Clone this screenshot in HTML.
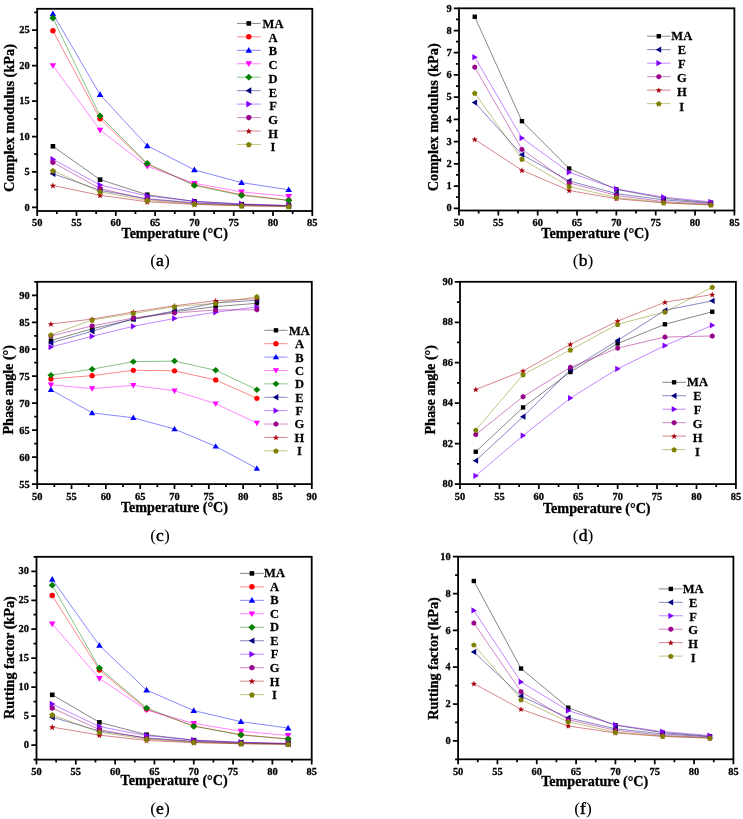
<!DOCTYPE html>
<html><head><meta charset="utf-8"><style>
html,body{margin:0;padding:0;background:#fff;width:743px;height:819px;overflow:hidden}
svg{display:block;filter:blur(0.3px)}
text{font-family:"Liberation Serif",serif;}
.tl{font-weight:bold;stroke:#000;stroke-width:0.3px;}
.ti{font-weight:bold;stroke:#000;stroke-width:0.3px;}
.lg{font-weight:bold;font-size:13.2px;stroke:#000;stroke-width:0.25px;}
.cap{font-size:17.5px;}
</style></head><body>
<svg width="743" height="819" viewBox="0 0 743 819">
<rect width="743" height="819" fill="#fff"/>
<polyline points="52.92,146.30 100.08,179.64 147.24,194.75 194.40,201.42 241.56,204.26 288.72,205.68" fill="none" stroke="#000000" stroke-width="0.8" stroke-opacity="0.6"/>
<polyline points="52.92,30.79 100.08,118.77 147.24,164.17 194.40,184.75 241.56,194.68 288.72,200.36" fill="none" stroke="#ff0000" stroke-width="0.8" stroke-opacity="0.6"/>
<polyline points="52.92,13.77 100.08,94.65 147.24,145.73 194.40,169.85 241.56,182.62 288.72,189.72" fill="none" stroke="#0000ff" stroke-width="0.8" stroke-opacity="0.6"/>
<polyline points="52.92,65.56 100.08,130.12 147.24,166.30 194.40,183.33 241.56,191.84 288.72,196.46" fill="none" stroke="#ff00ff" stroke-width="0.8" stroke-opacity="0.6"/>
<polyline points="52.92,18.02 100.08,115.93 147.24,163.47 194.40,185.46 241.56,195.39 288.72,200.36" fill="none" stroke="#008000" stroke-width="0.8" stroke-opacity="0.6"/>
<polyline points="52.92,173.68 100.08,190.35 147.24,198.73 194.40,202.77 241.56,204.76 288.72,205.89" fill="none" stroke="#000080" stroke-width="0.8" stroke-opacity="0.6"/>
<polyline points="52.92,159.21 100.08,185.03 147.24,195.96 194.40,201.28 241.56,203.91 288.72,205.40" fill="none" stroke="#8000ff" stroke-width="0.8" stroke-opacity="0.6"/>
<polyline points="52.92,162.40 100.08,188.65 147.24,199.36 194.40,203.34 241.56,205.32 288.72,206.18" fill="none" stroke="#98008a" stroke-width="0.8" stroke-opacity="0.6"/>
<polyline points="52.92,185.46 100.08,195.32 147.24,201.78 194.40,204.40 241.56,205.75 288.72,206.39" fill="none" stroke="#a8000c" stroke-width="0.8" stroke-opacity="0.6"/>
<polyline points="52.92,170.70 100.08,191.77 147.24,200.50 194.40,204.05 241.56,205.61 288.72,206.39" fill="none" stroke="#808000" stroke-width="0.8" stroke-opacity="0.6"/>
<rect x="50.62" y="144.00" width="4.60" height="4.60" fill="#000000"/>
<rect x="97.78" y="177.34" width="4.60" height="4.60" fill="#000000"/>
<rect x="144.94" y="192.45" width="4.60" height="4.60" fill="#000000"/>
<rect x="192.10" y="199.12" width="4.60" height="4.60" fill="#000000"/>
<rect x="239.26" y="201.96" width="4.60" height="4.60" fill="#000000"/>
<rect x="286.42" y="203.38" width="4.60" height="4.60" fill="#000000"/>
<circle cx="52.92" cy="30.79" r="2.75" fill="#ff0000"/>
<circle cx="100.08" cy="118.77" r="2.75" fill="#ff0000"/>
<circle cx="147.24" cy="164.17" r="2.75" fill="#ff0000"/>
<circle cx="194.40" cy="184.75" r="2.75" fill="#ff0000"/>
<circle cx="241.56" cy="194.68" r="2.75" fill="#ff0000"/>
<circle cx="288.72" cy="200.36" r="2.75" fill="#ff0000"/>
<polygon points="52.92,10.47 56.21,16.17 49.63,16.17" fill="#0000ff"/>
<polygon points="100.08,91.35 103.37,97.05 96.79,97.05" fill="#0000ff"/>
<polygon points="147.24,142.43 150.53,148.13 143.95,148.13" fill="#0000ff"/>
<polygon points="194.40,166.55 197.69,172.25 191.11,172.25" fill="#0000ff"/>
<polygon points="241.56,179.32 244.85,185.02 238.27,185.02" fill="#0000ff"/>
<polygon points="288.72,186.42 292.01,192.12 285.43,192.12" fill="#0000ff"/>
<polygon points="52.92,68.86 49.63,63.16 56.21,63.16" fill="#ff00ff"/>
<polygon points="100.08,133.42 96.79,127.72 103.37,127.72" fill="#ff00ff"/>
<polygon points="147.24,169.60 143.95,163.90 150.53,163.90" fill="#ff00ff"/>
<polygon points="194.40,186.63 191.11,180.93 197.69,180.93" fill="#ff00ff"/>
<polygon points="241.56,195.14 238.27,189.44 244.85,189.44" fill="#ff00ff"/>
<polygon points="288.72,199.76 285.43,194.06 292.01,194.06" fill="#ff00ff"/>
<polygon points="52.92,14.62 56.52,18.02 52.92,21.42 49.32,18.02" fill="#008000"/>
<polygon points="100.08,112.53 103.68,115.93 100.08,119.33 96.48,115.93" fill="#008000"/>
<polygon points="147.24,160.07 150.84,163.47 147.24,166.87 143.64,163.47" fill="#008000"/>
<polygon points="194.40,182.06 198.00,185.46 194.40,188.86 190.80,185.46" fill="#008000"/>
<polygon points="241.56,191.99 245.16,195.39 241.56,198.79 237.96,195.39" fill="#008000"/>
<polygon points="288.72,196.96 292.32,200.36 288.72,203.76 285.12,200.36" fill="#008000"/>
<polygon points="49.72,173.68 55.42,170.39 55.42,176.97" fill="#000080"/>
<polygon points="96.88,190.35 102.58,187.06 102.58,193.65" fill="#000080"/>
<polygon points="144.04,198.73 149.74,195.44 149.74,202.02" fill="#000080"/>
<polygon points="191.20,202.77 196.90,199.48 196.90,206.06" fill="#000080"/>
<polygon points="238.36,204.76 244.06,201.47 244.06,208.05" fill="#000080"/>
<polygon points="285.52,205.89 291.22,202.60 291.22,209.18" fill="#000080"/>
<polygon points="56.12,159.21 50.42,162.50 50.42,155.92" fill="#8000ff"/>
<polygon points="103.28,185.03 97.58,188.32 97.58,181.74" fill="#8000ff"/>
<polygon points="150.44,195.96 144.74,199.25 144.74,192.67" fill="#8000ff"/>
<polygon points="197.60,201.28 191.90,204.57 191.90,197.99" fill="#8000ff"/>
<polygon points="244.76,203.91 239.06,207.20 239.06,200.61" fill="#8000ff"/>
<polygon points="291.92,205.40 286.22,208.69 286.22,202.10" fill="#8000ff"/>
<polygon points="55.43,163.85 52.92,165.30 50.41,163.85 50.41,160.95 52.92,159.50 55.43,160.95" fill="#98008a"/>
<polygon points="102.59,190.10 100.08,191.55 97.57,190.10 97.57,187.20 100.08,185.75 102.59,187.20" fill="#98008a"/>
<polygon points="149.75,200.81 147.24,202.26 144.73,200.81 144.73,197.91 147.24,196.46 149.75,197.91" fill="#98008a"/>
<polygon points="196.91,204.79 194.40,206.24 191.89,204.79 191.89,201.89 194.40,200.44 196.91,201.89" fill="#98008a"/>
<polygon points="244.07,206.77 241.56,208.22 239.05,206.77 239.05,203.87 241.56,202.42 244.07,203.87" fill="#98008a"/>
<polygon points="291.23,207.63 288.72,209.08 286.21,207.63 286.21,204.73 288.72,203.28 291.23,204.73" fill="#98008a"/>
<polygon points="52.92,182.36 53.74,184.63 56.15,184.71 54.25,186.19 54.92,188.51 52.92,187.16 50.92,188.51 51.59,186.19 49.69,184.71 52.10,184.63" fill="#a8000c"/>
<polygon points="100.08,192.22 100.90,194.49 103.31,194.57 101.41,196.05 102.08,198.37 100.08,197.02 98.08,198.37 98.75,196.05 96.85,194.57 99.26,194.49" fill="#a8000c"/>
<polygon points="147.24,198.68 148.06,200.94 150.47,201.03 148.57,202.51 149.24,204.83 147.24,203.48 145.24,204.83 145.91,202.51 144.01,201.03 146.42,200.94" fill="#a8000c"/>
<polygon points="194.40,201.30 195.22,203.57 197.63,203.65 195.73,205.13 196.40,207.45 194.40,206.10 192.40,207.45 193.07,205.13 191.17,203.65 193.58,203.57" fill="#a8000c"/>
<polygon points="241.56,202.65 242.38,204.92 244.79,205.00 242.89,206.48 243.56,208.80 241.56,207.45 239.56,208.80 240.23,206.48 238.33,205.00 240.74,204.92" fill="#a8000c"/>
<polygon points="288.72,203.29 289.54,205.56 291.95,205.64 290.05,207.12 290.72,209.44 288.72,208.09 286.72,209.44 287.39,207.12 285.49,205.64 287.90,205.56" fill="#a8000c"/>
<polygon points="52.92,167.95 55.82,170.06 54.71,173.47 51.13,173.47 50.02,170.06" fill="#808000"/>
<polygon points="100.08,189.02 102.98,191.13 101.87,194.54 98.29,194.54 97.18,191.13" fill="#808000"/>
<polygon points="147.24,197.75 150.14,199.86 149.03,203.27 145.45,203.27 144.34,199.86" fill="#808000"/>
<polygon points="194.40,201.30 197.30,203.40 196.19,206.81 192.61,206.81 191.50,203.40" fill="#808000"/>
<polygon points="241.56,202.86 244.46,204.97 243.35,208.38 239.77,208.38 238.66,204.97" fill="#808000"/>
<polygon points="288.72,203.64 291.62,205.75 290.51,209.16 286.93,209.16 285.82,205.75" fill="#808000"/>
<line x1="236.9" y1="23.40" x2="260.7" y2="23.40" stroke="#000000" stroke-width="0.8" stroke-opacity="0.6"/>
<rect x="246.50" y="21.10" width="4.60" height="4.60" fill="#000000"/>
<text transform="translate(273,28.10) scale(0.95,1)" text-anchor="middle" class="lg">MA</text>
<line x1="236.9" y1="36.85" x2="260.7" y2="36.85" stroke="#ff0000" stroke-width="0.8" stroke-opacity="0.6"/>
<circle cx="248.80" cy="36.85" r="2.75" fill="#ff0000"/>
<text transform="translate(273,41.79) scale(0.95,1)" text-anchor="middle" class="lg">A</text>
<line x1="236.9" y1="50.30" x2="260.7" y2="50.30" stroke="#0000ff" stroke-width="0.8" stroke-opacity="0.6"/>
<polygon points="248.80,47.00 252.09,52.70 245.51,52.70" fill="#0000ff"/>
<text transform="translate(273,55.48) scale(0.95,1)" text-anchor="middle" class="lg">B</text>
<line x1="236.9" y1="63.75" x2="260.7" y2="63.75" stroke="#ff00ff" stroke-width="0.8" stroke-opacity="0.6"/>
<polygon points="248.80,67.05 245.51,61.35 252.09,61.35" fill="#ff00ff"/>
<text transform="translate(273,69.17) scale(0.95,1)" text-anchor="middle" class="lg">C</text>
<line x1="236.9" y1="77.20" x2="260.7" y2="77.20" stroke="#008000" stroke-width="0.8" stroke-opacity="0.6"/>
<polygon points="248.80,73.80 252.40,77.20 248.80,80.60 245.20,77.20" fill="#008000"/>
<text transform="translate(273,82.86) scale(0.95,1)" text-anchor="middle" class="lg">D</text>
<line x1="236.9" y1="90.65" x2="260.7" y2="90.65" stroke="#000080" stroke-width="0.8" stroke-opacity="0.6"/>
<polygon points="245.60,90.65 251.30,87.36 251.30,93.94" fill="#000080"/>
<text transform="translate(273,96.55) scale(0.95,1)" text-anchor="middle" class="lg">E</text>
<line x1="236.9" y1="104.10" x2="260.7" y2="104.10" stroke="#8000ff" stroke-width="0.8" stroke-opacity="0.6"/>
<polygon points="252.00,104.10 246.30,107.39 246.30,100.81" fill="#8000ff"/>
<text transform="translate(273,110.24) scale(0.95,1)" text-anchor="middle" class="lg">F</text>
<line x1="236.9" y1="117.55" x2="260.7" y2="117.55" stroke="#98008a" stroke-width="0.8" stroke-opacity="0.6"/>
<polygon points="251.31,119.00 248.80,120.45 246.29,119.00 246.29,116.10 248.80,114.65 251.31,116.10" fill="#98008a"/>
<text transform="translate(273,123.93) scale(0.95,1)" text-anchor="middle" class="lg">G</text>
<line x1="236.9" y1="131.00" x2="260.7" y2="131.00" stroke="#a8000c" stroke-width="0.8" stroke-opacity="0.6"/>
<polygon points="248.80,127.90 249.62,130.17 252.03,130.25 250.13,131.73 250.80,134.05 248.80,132.70 246.80,134.05 247.47,131.73 245.57,130.25 247.98,130.17" fill="#a8000c"/>
<text transform="translate(273,137.62) scale(0.95,1)" text-anchor="middle" class="lg">H</text>
<line x1="236.9" y1="144.45" x2="260.7" y2="144.45" stroke="#808000" stroke-width="0.8" stroke-opacity="0.6"/>
<polygon points="248.80,141.70 251.70,143.81 250.59,147.22 247.01,147.22 245.90,143.81" fill="#808000"/>
<text transform="translate(273,151.31) scale(0.95,1)" text-anchor="middle" class="lg">I</text>
<rect x="37.2" y="8.8" width="275.10" height="202.20" fill="none" stroke="#000" stroke-width="1.8"/>
<text transform="translate(37.20,226.40) scale(0.95,1)" text-anchor="middle" class="tl" font-size="11">50</text>
<text transform="translate(76.50,226.40) scale(0.95,1)" text-anchor="middle" class="tl" font-size="11">55</text>
<text transform="translate(115.80,226.40) scale(0.95,1)" text-anchor="middle" class="tl" font-size="11">60</text>
<text transform="translate(155.10,226.40) scale(0.95,1)" text-anchor="middle" class="tl" font-size="11">65</text>
<text transform="translate(194.40,226.40) scale(0.95,1)" text-anchor="middle" class="tl" font-size="11">70</text>
<text transform="translate(233.70,226.40) scale(0.95,1)" text-anchor="middle" class="tl" font-size="11">75</text>
<text transform="translate(273.00,226.40) scale(0.95,1)" text-anchor="middle" class="tl" font-size="11">80</text>
<text transform="translate(312.30,226.40) scale(0.95,1)" text-anchor="middle" class="tl" font-size="11">85</text>
<text transform="translate(29.70,210.65) scale(0.95,1)" text-anchor="end" class="tl" font-size="11">0</text>
<text transform="translate(29.70,175.18) scale(0.95,1)" text-anchor="end" class="tl" font-size="11">5</text>
<text transform="translate(29.70,139.71) scale(0.95,1)" text-anchor="end" class="tl" font-size="11">10</text>
<text transform="translate(29.70,104.23) scale(0.95,1)" text-anchor="end" class="tl" font-size="11">15</text>
<text transform="translate(29.70,68.76) scale(0.95,1)" text-anchor="end" class="tl" font-size="11">20</text>
<text transform="translate(29.70,33.28) scale(0.95,1)" text-anchor="end" class="tl" font-size="11">25</text>
<path d="M37.20,211.0v5.0 M76.50,211.0v5.0 M115.80,211.0v5.0 M155.10,211.0v5.0 M194.40,211.0v5.0 M233.70,211.0v5.0 M273.00,211.0v5.0 M312.30,211.0v5.0 M56.85,211.0v3.0 M96.15,211.0v3.0 M135.45,211.0v3.0 M174.75,211.0v3.0 M214.05,211.0v3.0 M253.35,211.0v3.0 M292.65,211.0v3.0 M37.2,207.45h-5.2 M37.2,171.98h-5.2 M37.2,136.51h-5.2 M37.2,101.03h-5.2 M37.2,65.56h-5.2 M37.2,30.08h-5.2 M37.2,189.72h-3.0 M37.2,154.24h-3.0 M37.2,118.77h-3.0 M37.2,83.29h-3.0 M37.2,47.82h-3.0 M37.2,12.35h-3.0" stroke="#000" stroke-width="1.75" fill="none"/>
<text x="174.75" y="238.3" text-anchor="middle" class="ti" font-size="14.0">Temperature (°C)</text>
<text transform="translate(13.8,118.0) rotate(-90)" x="0" y="0" text-anchor="middle" class="ti" font-size="14.33">Complex modulus (kPa)</text>
<text x="160" y="265.7" text-anchor="middle" class="cap"><tspan>(</tspan><tspan font-size="17.5" stroke="#000" stroke-width="0.45">a</tspan><tspan>)</tspan></text>
<polyline points="474.74,16.74 521.95,121.18 569.16,168.50 616.37,189.39 663.58,198.28 710.79,202.72" fill="none" stroke="#000000" stroke-width="0.8" stroke-opacity="0.6"/>
<polyline points="474.74,102.51 521.95,154.73 569.16,180.95 616.37,193.61 663.58,199.83 710.79,203.39" fill="none" stroke="#000080" stroke-width="0.8" stroke-opacity="0.6"/>
<polyline points="474.74,57.18 521.95,138.06 569.16,172.28 616.37,188.95 663.58,197.17 710.79,201.83" fill="none" stroke="#8000ff" stroke-width="0.8" stroke-opacity="0.6"/>
<polyline points="474.74,67.18 521.95,149.40 569.16,182.95 616.37,195.39 663.58,201.61 710.79,204.28" fill="none" stroke="#98008a" stroke-width="0.8" stroke-opacity="0.6"/>
<polyline points="474.74,139.40 521.95,170.28 569.16,190.50 616.37,198.72 663.58,202.95 710.79,204.95" fill="none" stroke="#a8000c" stroke-width="0.8" stroke-opacity="0.6"/>
<polyline points="474.74,93.18 521.95,159.17 569.16,186.50 616.37,197.61 663.58,202.50 710.79,204.95" fill="none" stroke="#808000" stroke-width="0.8" stroke-opacity="0.6"/>
<rect x="472.55" y="14.56" width="4.37" height="4.37" fill="#000000"/>
<rect x="519.76" y="118.99" width="4.37" height="4.37" fill="#000000"/>
<rect x="566.98" y="166.32" width="4.37" height="4.37" fill="#000000"/>
<rect x="614.19" y="187.21" width="4.37" height="4.37" fill="#000000"/>
<rect x="661.40" y="196.09" width="4.37" height="4.37" fill="#000000"/>
<rect x="708.61" y="200.54" width="4.37" height="4.37" fill="#000000"/>
<polygon points="471.70,102.51 477.11,99.39 477.11,105.64" fill="#000080"/>
<polygon points="518.91,154.73 524.32,151.60 524.32,157.85" fill="#000080"/>
<polygon points="566.12,180.95 571.53,177.82 571.53,184.07" fill="#000080"/>
<polygon points="613.33,193.61 618.75,190.49 618.75,196.74" fill="#000080"/>
<polygon points="660.54,199.83 665.96,196.71 665.96,202.96" fill="#000080"/>
<polygon points="707.75,203.39 713.17,200.26 713.17,206.52" fill="#000080"/>
<polygon points="477.78,57.18 472.36,60.31 472.36,54.06" fill="#8000ff"/>
<polygon points="524.99,138.06 519.57,141.19 519.57,134.94" fill="#8000ff"/>
<polygon points="572.20,172.28 566.78,175.41 566.78,169.16" fill="#8000ff"/>
<polygon points="619.41,188.95 614.00,192.07 614.00,185.82" fill="#8000ff"/>
<polygon points="666.62,197.17 661.21,200.29 661.21,194.04" fill="#8000ff"/>
<polygon points="713.83,201.83 708.42,204.96 708.42,198.71" fill="#8000ff"/>
<polygon points="477.12,68.56 474.74,69.94 472.35,68.56 472.35,65.80 474.74,64.43 477.12,65.80" fill="#98008a"/>
<polygon points="524.33,150.77 521.95,152.15 519.56,150.77 519.56,148.02 521.95,146.64 524.33,148.02" fill="#98008a"/>
<polygon points="571.55,184.32 569.16,185.70 566.77,184.32 566.77,181.57 569.16,180.19 571.55,181.57" fill="#98008a"/>
<polygon points="618.76,196.77 616.37,198.15 613.99,196.77 613.99,194.01 616.37,192.64 618.76,194.01" fill="#98008a"/>
<polygon points="665.97,202.99 663.58,204.37 661.20,202.99 661.20,200.23 663.58,198.86 665.97,200.23" fill="#98008a"/>
<polygon points="713.18,205.66 710.79,207.03 708.41,205.66 708.41,202.90 710.79,201.52 713.18,202.90" fill="#98008a"/>
<polygon points="474.74,136.45 475.52,138.61 477.81,138.68 476.00,140.09 476.64,142.29 474.74,141.01 472.84,142.29 473.47,140.09 471.67,138.68 473.96,138.61" fill="#a8000c"/>
<polygon points="521.95,167.34 522.73,169.49 525.02,169.57 523.21,170.98 523.85,173.18 521.95,171.90 520.05,173.18 520.68,170.98 518.88,169.57 521.17,169.49" fill="#a8000c"/>
<polygon points="569.16,187.56 569.94,189.71 572.23,189.79 570.42,191.20 571.06,193.40 569.16,192.12 567.26,193.40 567.90,191.20 566.09,189.79 568.38,189.71" fill="#a8000c"/>
<polygon points="616.37,195.78 617.15,197.93 619.44,198.01 617.64,199.42 618.27,201.62 616.37,200.34 614.47,201.62 615.11,199.42 613.30,198.01 615.59,197.93" fill="#a8000c"/>
<polygon points="663.58,200.00 664.36,202.15 666.65,202.23 664.85,203.64 665.48,205.84 663.58,204.56 661.68,205.84 662.32,203.64 660.51,202.23 662.80,202.15" fill="#a8000c"/>
<polygon points="710.79,202.00 711.58,204.15 713.87,204.23 712.06,205.64 712.69,207.84 710.79,206.56 708.90,207.84 709.53,205.64 707.72,204.23 710.01,204.15" fill="#a8000c"/>
<polygon points="474.74,90.57 477.49,92.57 476.44,95.81 473.03,95.81 471.98,92.57" fill="#808000"/>
<polygon points="521.95,156.56 524.70,158.56 523.65,161.80 520.25,161.80 519.19,158.56" fill="#808000"/>
<polygon points="569.16,183.89 571.92,185.89 570.86,189.13 567.46,189.13 566.40,185.89" fill="#808000"/>
<polygon points="616.37,195.00 619.13,197.00 618.07,200.24 614.67,200.24 613.62,197.00" fill="#808000"/>
<polygon points="663.58,199.89 666.34,201.89 665.29,205.13 661.88,205.13 660.83,201.89" fill="#808000"/>
<polygon points="710.79,202.33 713.55,204.33 712.50,207.57 709.09,207.57 708.04,204.33" fill="#808000"/>
<line x1="647.1" y1="36.20" x2="670.5" y2="36.20" stroke="#000000" stroke-width="0.8" stroke-opacity="0.6"/>
<rect x="656.62" y="34.02" width="4.37" height="4.37" fill="#000000"/>
<text transform="translate(681.8,40.35) scale(0.95,1)" text-anchor="middle" class="lg">MA</text>
<line x1="647.1" y1="49.68" x2="670.5" y2="49.68" stroke="#000080" stroke-width="0.8" stroke-opacity="0.6"/>
<polygon points="655.76,49.68 661.17,46.55 661.17,52.81" fill="#000080"/>
<text transform="translate(681.8,54.38) scale(0.95,1)" text-anchor="middle" class="lg">E</text>
<line x1="647.1" y1="63.16" x2="670.5" y2="63.16" stroke="#8000ff" stroke-width="0.8" stroke-opacity="0.6"/>
<polygon points="661.84,63.16 656.42,66.29 656.42,60.03" fill="#8000ff"/>
<text transform="translate(681.8,68.41) scale(0.95,1)" text-anchor="middle" class="lg">F</text>
<line x1="647.1" y1="76.64" x2="670.5" y2="76.64" stroke="#98008a" stroke-width="0.8" stroke-opacity="0.6"/>
<polygon points="661.19,78.02 658.80,79.39 656.41,78.02 656.41,75.26 658.80,73.89 661.19,75.26" fill="#98008a"/>
<text transform="translate(681.8,82.44) scale(0.95,1)" text-anchor="middle" class="lg">G</text>
<line x1="647.1" y1="90.12" x2="670.5" y2="90.12" stroke="#a8000c" stroke-width="0.8" stroke-opacity="0.6"/>
<polygon points="658.80,87.17 659.58,89.33 661.87,89.41 660.06,90.82 660.70,93.02 658.80,91.73 656.90,93.02 657.54,90.82 655.73,89.41 658.02,89.33" fill="#a8000c"/>
<text transform="translate(681.8,96.47) scale(0.95,1)" text-anchor="middle" class="lg">H</text>
<line x1="647.1" y1="103.60" x2="670.5" y2="103.60" stroke="#808000" stroke-width="0.8" stroke-opacity="0.6"/>
<polygon points="658.80,100.99 661.56,102.99 660.50,106.23 657.10,106.23 656.04,102.99" fill="#808000"/>
<text transform="translate(681.8,110.50) scale(0.95,1)" text-anchor="middle" class="lg">I</text>
<rect x="459.0" y="8.3" width="275.40" height="202.20" fill="none" stroke="#000" stroke-width="1.8"/>
<text transform="translate(459.00,225.90) scale(0.95,1)" text-anchor="middle" class="tl" font-size="11">50</text>
<text transform="translate(498.34,225.90) scale(0.95,1)" text-anchor="middle" class="tl" font-size="11">55</text>
<text transform="translate(537.69,225.90) scale(0.95,1)" text-anchor="middle" class="tl" font-size="11">60</text>
<text transform="translate(577.03,225.90) scale(0.95,1)" text-anchor="middle" class="tl" font-size="11">65</text>
<text transform="translate(616.37,225.90) scale(0.95,1)" text-anchor="middle" class="tl" font-size="11">70</text>
<text transform="translate(655.71,225.90) scale(0.95,1)" text-anchor="middle" class="tl" font-size="11">75</text>
<text transform="translate(695.06,225.90) scale(0.95,1)" text-anchor="middle" class="tl" font-size="11">80</text>
<text transform="translate(734.40,225.90) scale(0.95,1)" text-anchor="middle" class="tl" font-size="11">85</text>
<text transform="translate(451.80,211.48) scale(0.95,1)" text-anchor="end" class="tl" font-size="11">0</text>
<text transform="translate(451.80,189.26) scale(0.95,1)" text-anchor="end" class="tl" font-size="11">1</text>
<text transform="translate(451.80,167.04) scale(0.95,1)" text-anchor="end" class="tl" font-size="11">2</text>
<text transform="translate(451.80,144.82) scale(0.95,1)" text-anchor="end" class="tl" font-size="11">3</text>
<text transform="translate(451.80,122.60) scale(0.95,1)" text-anchor="end" class="tl" font-size="11">4</text>
<text transform="translate(451.80,100.38) scale(0.95,1)" text-anchor="end" class="tl" font-size="11">5</text>
<text transform="translate(451.80,78.16) scale(0.95,1)" text-anchor="end" class="tl" font-size="11">6</text>
<text transform="translate(451.80,55.94) scale(0.95,1)" text-anchor="end" class="tl" font-size="11">7</text>
<text transform="translate(451.80,33.72) scale(0.95,1)" text-anchor="end" class="tl" font-size="11">8</text>
<text transform="translate(451.80,11.50) scale(0.95,1)" text-anchor="end" class="tl" font-size="11">9</text>
<path d="M459.00,210.5v5.0 M498.34,210.5v5.0 M537.69,210.5v5.0 M577.03,210.5v5.0 M616.37,210.5v5.0 M655.71,210.5v5.0 M695.06,210.5v5.0 M734.40,210.5v5.0 M478.67,210.5v3.0 M518.01,210.5v3.0 M557.36,210.5v3.0 M596.70,210.5v3.0 M636.04,210.5v3.0 M675.39,210.5v3.0 M714.73,210.5v3.0 M459.0,208.28h-5.2 M459.0,186.06h-5.2 M459.0,163.84h-5.2 M459.0,141.62h-5.2 M459.0,119.40h-5.2 M459.0,97.18h-5.2 M459.0,74.96h-5.2 M459.0,52.74h-5.2 M459.0,30.52h-5.2 M459.0,8.30h-5.2 M459.0,197.17h-3.0 M459.0,174.95h-3.0 M459.0,152.73h-3.0 M459.0,130.51h-3.0 M459.0,108.29h-3.0 M459.0,86.07h-3.0 M459.0,63.85h-3.0 M459.0,41.63h-3.0 M459.0,19.41h-3.0" stroke="#000" stroke-width="1.75" fill="none"/>
<text x="595.20" y="238.3" text-anchor="middle" class="ti" font-size="14.2">Temperature (°C)</text>
<text transform="translate(437.5,117.3) rotate(-90)" x="0" y="0" text-anchor="middle" class="ti" font-size="14.33">Complex modulus (kPa)</text>
<text x="583" y="265.7" text-anchor="middle" class="cap"><tspan>(</tspan><tspan font-size="17.5" stroke="#000" stroke-width="0.45">b</tspan><tspan>)</tspan></text>
<polyline points="50.93,340.60 92.12,328.79 133.31,319.35 174.50,311.74 215.69,306.62 256.88,303.27" fill="none" stroke="#000000" stroke-width="0.8" stroke-opacity="0.6"/>
<polyline points="50.93,378.90 92.12,375.67 133.31,370.27 174.50,370.81 215.69,379.98 256.88,398.32" fill="none" stroke="#ff0000" stroke-width="0.8" stroke-opacity="0.6"/>
<polyline points="50.93,389.69 92.12,412.89 133.31,417.75 174.50,429.07 215.69,446.34 256.88,468.46" fill="none" stroke="#0000ff" stroke-width="0.8" stroke-opacity="0.6"/>
<polyline points="50.93,384.84 92.12,388.61 133.31,385.38 174.50,390.77 215.69,403.72 256.88,423.14" fill="none" stroke="#ff00ff" stroke-width="0.8" stroke-opacity="0.6"/>
<polyline points="50.93,375.13 92.12,369.19 133.31,361.64 174.50,361.10 215.69,370.27 256.88,389.69" fill="none" stroke="#008000" stroke-width="0.8" stroke-opacity="0.6"/>
<polyline points="50.93,342.98 92.12,331.27 133.31,318.75 174.50,310.93 215.69,302.89 256.88,300.36" fill="none" stroke="#000080" stroke-width="0.8" stroke-opacity="0.6"/>
<polyline points="50.93,347.02 92.12,336.29 133.31,326.31 174.50,318.48 215.69,312.28 256.88,306.89" fill="none" stroke="#8000ff" stroke-width="0.8" stroke-opacity="0.6"/>
<polyline points="50.93,336.02 92.12,325.93 133.31,318.11 174.50,312.98 215.69,310.01 256.88,309.74" fill="none" stroke="#98008a" stroke-width="0.8" stroke-opacity="0.6"/>
<polyline points="50.93,323.99 92.12,319.08 133.31,311.96 174.50,305.75 215.69,300.74 256.88,298.69" fill="none" stroke="#a8000c" stroke-width="0.8" stroke-opacity="0.6"/>
<polyline points="50.93,334.83 92.12,320.05 133.31,313.47 174.50,306.62 215.69,303.32 256.88,296.69" fill="none" stroke="#808000" stroke-width="0.8" stroke-opacity="0.6"/>
<rect x="48.75" y="338.42" width="4.37" height="4.37" fill="#000000"/>
<rect x="89.94" y="326.60" width="4.37" height="4.37" fill="#000000"/>
<rect x="131.12" y="317.16" width="4.37" height="4.37" fill="#000000"/>
<rect x="172.31" y="309.56" width="4.37" height="4.37" fill="#000000"/>
<rect x="213.50" y="304.43" width="4.37" height="4.37" fill="#000000"/>
<rect x="254.70" y="301.09" width="4.37" height="4.37" fill="#000000"/>
<circle cx="50.93" cy="378.90" r="2.61" fill="#ff0000"/>
<circle cx="92.12" cy="375.67" r="2.61" fill="#ff0000"/>
<circle cx="133.31" cy="370.27" r="2.61" fill="#ff0000"/>
<circle cx="174.50" cy="370.81" r="2.61" fill="#ff0000"/>
<circle cx="215.69" cy="379.98" r="2.61" fill="#ff0000"/>
<circle cx="256.88" cy="398.32" r="2.61" fill="#ff0000"/>
<polygon points="50.93,386.56 54.06,391.97 47.80,391.97" fill="#0000ff"/>
<polygon points="92.12,409.76 95.25,415.17 88.99,415.17" fill="#0000ff"/>
<polygon points="133.31,414.61 136.44,420.03 130.18,420.03" fill="#0000ff"/>
<polygon points="174.50,425.94 177.63,431.35 171.37,431.35" fill="#0000ff"/>
<polygon points="215.69,443.20 218.82,448.62 212.56,448.62" fill="#0000ff"/>
<polygon points="256.88,465.32 260.01,470.74 253.75,470.74" fill="#0000ff"/>
<polygon points="50.93,387.97 47.80,382.56 54.06,382.56" fill="#ff00ff"/>
<polygon points="92.12,391.75 88.99,386.33 95.25,386.33" fill="#ff00ff"/>
<polygon points="133.31,388.51 130.18,383.10 136.44,383.10" fill="#ff00ff"/>
<polygon points="174.50,393.91 171.37,388.49 177.63,388.49" fill="#ff00ff"/>
<polygon points="215.69,406.85 212.56,401.44 218.82,401.44" fill="#ff00ff"/>
<polygon points="256.88,426.28 253.75,420.86 260.01,420.86" fill="#ff00ff"/>
<polygon points="50.93,371.90 54.35,375.13 50.93,378.36 47.51,375.13" fill="#008000"/>
<polygon points="92.12,365.96 95.54,369.19 92.12,372.42 88.70,369.19" fill="#008000"/>
<polygon points="133.31,358.41 136.73,361.64 133.31,364.87 129.89,361.64" fill="#008000"/>
<polygon points="174.50,357.87 177.92,361.10 174.50,364.33 171.08,361.10" fill="#008000"/>
<polygon points="215.69,367.04 219.11,370.27 215.69,373.50 212.27,370.27" fill="#008000"/>
<polygon points="256.88,386.46 260.30,389.69 256.88,392.92 253.46,389.69" fill="#008000"/>
<polygon points="47.89,342.98 53.31,339.85 53.31,346.10" fill="#000080"/>
<polygon points="89.08,331.27 94.50,328.14 94.49,334.40" fill="#000080"/>
<polygon points="130.27,318.75 135.69,315.63 135.69,321.88" fill="#000080"/>
<polygon points="171.46,310.93 176.88,307.80 176.88,314.06" fill="#000080"/>
<polygon points="212.65,302.89 218.06,299.77 218.06,306.02" fill="#000080"/>
<polygon points="253.84,300.36 259.26,297.23 259.26,303.48" fill="#000080"/>
<polygon points="53.97,347.02 48.56,350.15 48.56,343.90" fill="#8000ff"/>
<polygon points="95.16,336.29 89.75,339.41 89.75,333.16" fill="#8000ff"/>
<polygon points="136.35,326.31 130.94,329.43 130.94,323.18" fill="#8000ff"/>
<polygon points="177.54,318.48 172.12,321.61 172.12,315.36" fill="#8000ff"/>
<polygon points="218.73,312.28 213.31,315.41 213.31,309.15" fill="#8000ff"/>
<polygon points="259.92,306.89 254.51,310.01 254.51,303.76" fill="#8000ff"/>
<polygon points="53.32,337.39 50.93,338.77 48.54,337.39 48.54,334.64 50.93,333.26 53.32,334.64" fill="#98008a"/>
<polygon points="94.51,327.31 92.12,328.68 89.73,327.31 89.73,324.55 92.12,323.17 94.51,324.55" fill="#98008a"/>
<polygon points="135.70,319.48 133.31,320.86 130.92,319.48 130.92,316.73 133.31,315.35 135.70,316.73" fill="#98008a"/>
<polygon points="176.89,314.36 174.50,315.74 172.11,314.36 172.11,311.60 174.50,310.23 176.89,311.60" fill="#98008a"/>
<polygon points="218.08,311.39 215.69,312.77 213.30,311.39 213.30,308.64 215.69,307.26 218.08,308.64" fill="#98008a"/>
<polygon points="259.27,311.12 256.88,312.50 254.49,311.12 254.49,308.37 256.88,306.99 259.27,308.37" fill="#98008a"/>
<polygon points="50.93,321.04 51.71,323.20 54.00,323.27 52.19,324.68 52.83,326.88 50.93,325.60 49.03,326.88 49.67,324.68 47.86,323.27 50.15,323.20" fill="#a8000c"/>
<polygon points="92.12,316.13 92.90,318.29 95.19,318.36 93.38,319.77 94.02,321.98 92.12,320.69 90.22,321.98 90.86,319.77 89.05,318.36 91.34,318.29" fill="#a8000c"/>
<polygon points="133.31,309.01 134.09,311.17 136.38,311.24 134.57,312.65 135.21,314.85 133.31,313.57 131.41,314.85 132.05,312.65 130.24,311.24 132.53,311.17" fill="#a8000c"/>
<polygon points="174.50,302.81 175.28,304.96 177.57,305.04 175.76,306.45 176.40,308.65 174.50,307.37 172.60,308.65 173.24,306.45 171.43,305.04 173.72,304.96" fill="#a8000c"/>
<polygon points="215.69,297.79 216.47,299.94 218.76,300.02 216.95,301.43 217.59,303.63 215.69,302.35 213.79,303.63 214.43,301.43 212.62,300.02 214.91,299.94" fill="#a8000c"/>
<polygon points="256.88,295.74 257.66,297.89 259.95,297.97 258.14,299.38 258.78,301.58 256.88,300.30 254.98,301.58 255.62,299.38 253.81,297.97 256.10,297.89" fill="#a8000c"/>
<polygon points="50.93,332.22 53.69,334.22 52.63,337.46 49.23,337.46 48.17,334.22" fill="#808000"/>
<polygon points="92.12,317.44 94.88,319.44 93.82,322.68 90.42,322.68 89.36,319.44" fill="#808000"/>
<polygon points="133.31,310.85 136.07,312.86 135.01,316.10 131.61,316.10 130.55,312.86" fill="#808000"/>
<polygon points="174.50,304.00 177.26,306.01 176.20,309.24 172.80,309.24 171.74,306.01" fill="#808000"/>
<polygon points="215.69,300.71 218.45,302.71 217.39,305.95 213.99,305.95 212.93,302.71" fill="#808000"/>
<polygon points="256.88,294.08 259.64,296.08 258.58,299.32 255.18,299.32 254.12,296.08" fill="#808000"/>
<line x1="264.4" y1="330.30" x2="287.5" y2="330.30" stroke="#000000" stroke-width="0.8" stroke-opacity="0.6"/>
<rect x="273.76" y="328.12" width="4.37" height="4.37" fill="#000000"/>
<text transform="translate(299.4,334.80) scale(0.95,1)" text-anchor="middle" class="lg">MA</text>
<line x1="264.4" y1="343.69" x2="287.5" y2="343.69" stroke="#ff0000" stroke-width="0.8" stroke-opacity="0.6"/>
<circle cx="275.95" cy="343.69" r="2.61" fill="#ff0000"/>
<text transform="translate(299.4,348.16) scale(0.95,1)" text-anchor="middle" class="lg">A</text>
<line x1="264.4" y1="357.08" x2="287.5" y2="357.08" stroke="#0000ff" stroke-width="0.8" stroke-opacity="0.6"/>
<polygon points="275.95,353.95 279.08,359.36 272.82,359.36" fill="#0000ff"/>
<text transform="translate(299.4,361.52) scale(0.95,1)" text-anchor="middle" class="lg">B</text>
<line x1="264.4" y1="370.47" x2="287.5" y2="370.47" stroke="#ff00ff" stroke-width="0.8" stroke-opacity="0.6"/>
<polygon points="275.95,373.61 272.82,368.19 279.08,368.19" fill="#ff00ff"/>
<text transform="translate(299.4,374.88) scale(0.95,1)" text-anchor="middle" class="lg">C</text>
<line x1="264.4" y1="383.86" x2="287.5" y2="383.86" stroke="#008000" stroke-width="0.8" stroke-opacity="0.6"/>
<polygon points="275.95,380.63 279.37,383.86 275.95,387.09 272.53,383.86" fill="#008000"/>
<text transform="translate(299.4,388.24) scale(0.95,1)" text-anchor="middle" class="lg">D</text>
<line x1="264.4" y1="397.25" x2="287.5" y2="397.25" stroke="#000080" stroke-width="0.8" stroke-opacity="0.6"/>
<polygon points="272.91,397.25 278.32,394.12 278.32,400.38" fill="#000080"/>
<text transform="translate(299.4,401.60) scale(0.95,1)" text-anchor="middle" class="lg">E</text>
<line x1="264.4" y1="410.64" x2="287.5" y2="410.64" stroke="#8000ff" stroke-width="0.8" stroke-opacity="0.6"/>
<polygon points="278.99,410.64 273.57,413.77 273.57,407.51" fill="#8000ff"/>
<text transform="translate(299.4,414.96) scale(0.95,1)" text-anchor="middle" class="lg">F</text>
<line x1="264.4" y1="424.03" x2="287.5" y2="424.03" stroke="#98008a" stroke-width="0.8" stroke-opacity="0.6"/>
<polygon points="278.34,425.41 275.95,426.79 273.56,425.41 273.56,422.65 275.95,421.28 278.34,422.65" fill="#98008a"/>
<text transform="translate(299.4,428.32) scale(0.95,1)" text-anchor="middle" class="lg">G</text>
<line x1="264.4" y1="437.42" x2="287.5" y2="437.42" stroke="#a8000c" stroke-width="0.8" stroke-opacity="0.6"/>
<polygon points="275.95,434.48 276.73,436.63 279.02,436.71 277.21,438.12 277.85,440.32 275.95,439.04 274.05,440.32 274.69,438.12 272.88,436.71 275.17,436.63" fill="#a8000c"/>
<text transform="translate(299.4,441.68) scale(0.95,1)" text-anchor="middle" class="lg">H</text>
<line x1="264.4" y1="450.81" x2="287.5" y2="450.81" stroke="#808000" stroke-width="0.8" stroke-opacity="0.6"/>
<polygon points="275.95,448.20 278.71,450.20 277.65,453.44 274.25,453.44 273.19,450.20" fill="#808000"/>
<text transform="translate(299.4,455.04) scale(0.95,1)" text-anchor="middle" class="lg">I</text>
<rect x="37.2" y="281.8" width="274.60" height="202.30" fill="none" stroke="#000" stroke-width="1.8"/>
<text transform="translate(37.20,499.50) scale(0.95,1)" text-anchor="middle" class="tl" font-size="11">50</text>
<text transform="translate(71.53,499.50) scale(0.95,1)" text-anchor="middle" class="tl" font-size="11">55</text>
<text transform="translate(105.85,499.50) scale(0.95,1)" text-anchor="middle" class="tl" font-size="11">60</text>
<text transform="translate(140.18,499.50) scale(0.95,1)" text-anchor="middle" class="tl" font-size="11">65</text>
<text transform="translate(174.50,499.50) scale(0.95,1)" text-anchor="middle" class="tl" font-size="11">70</text>
<text transform="translate(208.82,499.50) scale(0.95,1)" text-anchor="middle" class="tl" font-size="11">75</text>
<text transform="translate(243.15,499.50) scale(0.95,1)" text-anchor="middle" class="tl" font-size="11">80</text>
<text transform="translate(277.48,499.50) scale(0.95,1)" text-anchor="middle" class="tl" font-size="11">85</text>
<text transform="translate(311.80,499.50) scale(0.95,1)" text-anchor="middle" class="tl" font-size="11">90</text>
<text transform="translate(29.80,487.70) scale(0.95,1)" text-anchor="end" class="tl" font-size="11">55</text>
<text transform="translate(29.80,460.73) scale(0.95,1)" text-anchor="end" class="tl" font-size="11">60</text>
<text transform="translate(29.80,433.75) scale(0.95,1)" text-anchor="end" class="tl" font-size="11">65</text>
<text transform="translate(29.80,406.78) scale(0.95,1)" text-anchor="end" class="tl" font-size="11">70</text>
<text transform="translate(29.80,379.81) scale(0.95,1)" text-anchor="end" class="tl" font-size="11">75</text>
<text transform="translate(29.80,352.83) scale(0.95,1)" text-anchor="end" class="tl" font-size="11">80</text>
<text transform="translate(29.80,325.86) scale(0.95,1)" text-anchor="end" class="tl" font-size="11">85</text>
<text transform="translate(29.80,298.89) scale(0.95,1)" text-anchor="end" class="tl" font-size="11">90</text>
<path d="M37.20,484.1v5.0 M71.53,484.1v5.0 M105.85,484.1v5.0 M140.18,484.1v5.0 M174.50,484.1v5.0 M208.82,484.1v5.0 M243.15,484.1v5.0 M277.48,484.1v5.0 M311.80,484.1v5.0 M54.36,484.1v3.0 M88.69,484.1v3.0 M123.01,484.1v3.0 M157.34,484.1v3.0 M191.66,484.1v3.0 M225.99,484.1v3.0 M260.31,484.1v3.0 M294.64,484.1v3.0 M37.2,484.10h-5.2 M37.2,457.13h-5.2 M37.2,430.15h-5.2 M37.2,403.18h-5.2 M37.2,376.21h-5.2 M37.2,349.23h-5.2 M37.2,322.26h-5.2 M37.2,295.29h-5.2 M37.2,470.61h-3.0 M37.2,443.64h-3.0 M37.2,416.67h-3.0 M37.2,389.69h-3.0 M37.2,362.72h-3.0 M37.2,335.75h-3.0 M37.2,308.77h-3.0 M37.2,281.80h-3.0" stroke="#000" stroke-width="1.75" fill="none"/>
<text x="174.50" y="512.3" text-anchor="middle" class="ti" font-size="14.1">Temperature (°C)</text>
<text transform="translate(13.0,389.8) rotate(-90)" x="0" y="0" text-anchor="middle" class="ti" font-size="14.1">Phase angle (°)</text>
<text x="160" y="541.2" text-anchor="middle" class="cap"><tspan>(</tspan><tspan font-size="17.5" stroke="#000" stroke-width="0.45">c</tspan><tspan>)</tspan></text>
<polyline points="475.77,451.73 523.06,407.43 570.36,372.03 617.66,343.50 664.95,324.28 712.25,311.74" fill="none" stroke="#000000" stroke-width="0.8" stroke-opacity="0.6"/>
<polyline points="475.77,460.63 523.06,416.73 570.36,369.80 617.66,340.47 664.95,310.32 712.25,300.82" fill="none" stroke="#000080" stroke-width="0.8" stroke-opacity="0.6"/>
<polyline points="475.77,475.81 523.06,435.55 570.36,398.12 617.66,368.79 664.95,345.52 712.25,325.29" fill="none" stroke="#8000ff" stroke-width="0.8" stroke-opacity="0.6"/>
<polyline points="475.77,434.54 523.06,396.71 570.36,367.37 617.66,348.15 664.95,337.03 712.25,336.02" fill="none" stroke="#98008a" stroke-width="0.8" stroke-opacity="0.6"/>
<polyline points="475.77,389.42 523.06,371.01 570.36,344.31 617.66,321.05 664.95,302.23 712.25,294.54" fill="none" stroke="#a8000c" stroke-width="0.8" stroke-opacity="0.6"/>
<polyline points="475.77,430.09 523.06,374.66 570.36,349.98 617.66,324.28 664.95,311.94 712.25,287.06" fill="none" stroke="#808000" stroke-width="0.8" stroke-opacity="0.6"/>
<rect x="473.58" y="449.55" width="4.37" height="4.37" fill="#000000"/>
<rect x="520.88" y="405.24" width="4.37" height="4.37" fill="#000000"/>
<rect x="568.18" y="369.84" width="4.37" height="4.37" fill="#000000"/>
<rect x="615.47" y="341.32" width="4.37" height="4.37" fill="#000000"/>
<rect x="662.77" y="322.10" width="4.37" height="4.37" fill="#000000"/>
<rect x="710.07" y="309.56" width="4.37" height="4.37" fill="#000000"/>
<polygon points="472.73,460.63 478.14,457.51 478.14,463.76" fill="#000080"/>
<polygon points="520.02,416.73 525.44,413.61 525.44,419.86" fill="#000080"/>
<polygon points="567.32,369.80 572.74,366.67 572.74,372.93" fill="#000080"/>
<polygon points="614.62,340.47 620.03,337.34 620.03,343.59" fill="#000080"/>
<polygon points="661.91,310.32 667.33,307.20 667.33,313.45" fill="#000080"/>
<polygon points="709.21,300.82 714.63,297.69 714.63,303.94" fill="#000080"/>
<polygon points="478.81,475.81 473.39,478.93 473.39,472.68" fill="#8000ff"/>
<polygon points="526.10,435.55 520.69,438.67 520.69,432.42" fill="#8000ff"/>
<polygon points="573.40,398.12 567.99,401.25 567.99,395.00" fill="#8000ff"/>
<polygon points="620.70,368.79 615.28,371.92 615.28,365.66" fill="#8000ff"/>
<polygon points="667.99,345.52 662.58,348.65 662.58,342.40" fill="#8000ff"/>
<polygon points="715.29,325.29 709.88,328.42 709.88,322.17" fill="#8000ff"/>
<polygon points="478.15,435.91 475.77,437.29 473.38,435.91 473.38,433.16 475.77,431.78 478.15,433.16" fill="#98008a"/>
<polygon points="525.45,398.08 523.06,399.46 520.68,398.08 520.68,395.33 523.06,393.95 525.45,395.33" fill="#98008a"/>
<polygon points="572.75,368.75 570.36,370.13 567.97,368.75 567.97,366.00 570.36,364.62 572.75,366.00" fill="#98008a"/>
<polygon points="620.04,349.53 617.66,350.91 615.27,349.53 615.27,346.78 617.66,345.40 620.04,346.78" fill="#98008a"/>
<polygon points="667.34,338.41 664.95,339.78 662.57,338.41 662.57,335.65 664.95,334.27 667.34,335.65" fill="#98008a"/>
<polygon points="714.64,337.39 712.25,338.77 709.87,337.39 709.87,334.64 712.25,333.26 714.64,334.64" fill="#98008a"/>
<polygon points="475.77,386.48 476.55,388.63 478.84,388.71 477.03,390.12 477.66,392.32 475.77,391.04 473.87,392.32 474.50,390.12 472.69,388.71 474.98,388.63" fill="#a8000c"/>
<polygon points="523.06,368.07 523.84,370.22 526.13,370.30 524.33,371.71 524.96,373.91 523.06,372.63 521.16,373.91 521.80,371.71 519.99,370.30 522.28,370.22" fill="#a8000c"/>
<polygon points="570.36,341.37 571.14,343.52 573.43,343.60 571.62,345.01 572.26,347.21 570.36,345.93 568.46,347.21 569.10,345.01 567.29,343.60 569.58,343.52" fill="#a8000c"/>
<polygon points="617.66,318.10 618.44,320.26 620.73,320.33 618.92,321.74 619.56,323.94 617.66,322.66 615.76,323.94 616.39,321.74 614.59,320.33 616.88,320.26" fill="#a8000c"/>
<polygon points="664.95,299.29 665.74,301.44 668.03,301.52 666.22,302.93 666.85,305.13 664.95,303.85 663.06,305.13 663.69,302.93 661.88,301.52 664.17,301.44" fill="#a8000c"/>
<polygon points="712.25,291.60 713.03,293.75 715.32,293.83 713.52,295.24 714.15,297.44 712.25,296.16 710.35,297.44 710.99,295.24 709.18,293.83 711.47,293.75" fill="#a8000c"/>
<polygon points="475.77,427.47 478.52,429.48 477.47,432.72 474.06,432.72 473.01,429.48" fill="#808000"/>
<polygon points="523.06,372.04 525.82,374.05 524.77,377.28 521.36,377.28 520.31,374.05" fill="#808000"/>
<polygon points="570.36,347.36 573.12,349.36 572.06,352.60 568.66,352.60 567.60,349.36" fill="#808000"/>
<polygon points="617.66,321.67 620.41,323.67 619.36,326.91 615.95,326.91 614.90,323.67" fill="#808000"/>
<polygon points="664.95,309.33 667.71,311.33 666.66,314.57 663.25,314.57 662.20,311.33" fill="#808000"/>
<polygon points="712.25,284.45 715.01,286.45 713.95,289.69 710.55,289.69 709.50,286.45" fill="#808000"/>
<line x1="662.3" y1="382.30" x2="685.9" y2="382.30" stroke="#000000" stroke-width="0.8" stroke-opacity="0.6"/>
<rect x="671.91" y="380.12" width="4.37" height="4.37" fill="#000000"/>
<text transform="translate(697.5,385.60) scale(0.95,1)" text-anchor="middle" class="lg">MA</text>
<line x1="662.3" y1="395.76" x2="685.9" y2="395.76" stroke="#000080" stroke-width="0.8" stroke-opacity="0.6"/>
<polygon points="671.06,395.76 676.47,392.63 676.47,398.89" fill="#000080"/>
<text transform="translate(697.5,399.68) scale(0.95,1)" text-anchor="middle" class="lg">E</text>
<line x1="662.3" y1="409.22" x2="685.9" y2="409.22" stroke="#8000ff" stroke-width="0.8" stroke-opacity="0.6"/>
<polygon points="677.14,409.22 671.72,412.35 671.72,406.09" fill="#8000ff"/>
<text transform="translate(697.5,413.76) scale(0.95,1)" text-anchor="middle" class="lg">F</text>
<line x1="662.3" y1="422.68" x2="685.9" y2="422.68" stroke="#98008a" stroke-width="0.8" stroke-opacity="0.6"/>
<polygon points="676.49,424.06 674.10,425.44 671.71,424.06 671.71,421.30 674.10,419.93 676.49,421.30" fill="#98008a"/>
<text transform="translate(697.5,427.84) scale(0.95,1)" text-anchor="middle" class="lg">G</text>
<line x1="662.3" y1="436.14" x2="685.9" y2="436.14" stroke="#a8000c" stroke-width="0.8" stroke-opacity="0.6"/>
<polygon points="674.10,433.19 674.88,435.35 677.17,435.43 675.36,436.84 676.00,439.04 674.10,437.75 672.20,439.04 672.84,436.84 671.03,435.43 673.32,435.35" fill="#a8000c"/>
<text transform="translate(697.5,441.92) scale(0.95,1)" text-anchor="middle" class="lg">H</text>
<line x1="662.3" y1="449.60" x2="685.9" y2="449.60" stroke="#808000" stroke-width="0.8" stroke-opacity="0.6"/>
<polygon points="674.10,446.99 676.86,448.99 675.80,452.23 672.40,452.23 671.34,448.99" fill="#808000"/>
<text transform="translate(697.5,456.00) scale(0.95,1)" text-anchor="middle" class="lg">I</text>
<rect x="460.0" y="281.8" width="275.90" height="202.30" fill="none" stroke="#000" stroke-width="1.8"/>
<text transform="translate(460.00,499.50) scale(0.95,1)" text-anchor="middle" class="tl" font-size="11">50</text>
<text transform="translate(499.41,499.50) scale(0.95,1)" text-anchor="middle" class="tl" font-size="11">55</text>
<text transform="translate(538.83,499.50) scale(0.95,1)" text-anchor="middle" class="tl" font-size="11">60</text>
<text transform="translate(578.24,499.50) scale(0.95,1)" text-anchor="middle" class="tl" font-size="11">65</text>
<text transform="translate(617.66,499.50) scale(0.95,1)" text-anchor="middle" class="tl" font-size="11">70</text>
<text transform="translate(657.07,499.50) scale(0.95,1)" text-anchor="middle" class="tl" font-size="11">75</text>
<text transform="translate(696.49,499.50) scale(0.95,1)" text-anchor="middle" class="tl" font-size="11">80</text>
<text transform="translate(735.90,499.50) scale(0.95,1)" text-anchor="middle" class="tl" font-size="11">85</text>
<text transform="translate(453.00,487.30) scale(0.95,1)" text-anchor="end" class="tl" font-size="11">80</text>
<text transform="translate(453.00,446.84) scale(0.95,1)" text-anchor="end" class="tl" font-size="11">82</text>
<text transform="translate(453.00,406.38) scale(0.95,1)" text-anchor="end" class="tl" font-size="11">84</text>
<text transform="translate(453.00,365.92) scale(0.95,1)" text-anchor="end" class="tl" font-size="11">86</text>
<text transform="translate(453.00,325.46) scale(0.95,1)" text-anchor="end" class="tl" font-size="11">88</text>
<text transform="translate(453.00,285.00) scale(0.95,1)" text-anchor="end" class="tl" font-size="11">90</text>
<path d="M460.00,484.1v5.0 M499.41,484.1v5.0 M538.83,484.1v5.0 M578.24,484.1v5.0 M617.66,484.1v5.0 M657.07,484.1v5.0 M696.49,484.1v5.0 M735.90,484.1v5.0 M479.71,484.1v3.0 M519.12,484.1v3.0 M558.54,484.1v3.0 M597.95,484.1v3.0 M637.36,484.1v3.0 M676.78,484.1v3.0 M716.19,484.1v3.0 M460.0,484.10h-5.2 M460.0,443.64h-5.2 M460.0,403.18h-5.2 M460.0,362.72h-5.2 M460.0,322.26h-5.2 M460.0,281.80h-5.2 M460.0,463.87h-3.0 M460.0,423.41h-3.0 M460.0,382.95h-3.0 M460.0,342.49h-3.0 M460.0,302.03h-3.0" stroke="#000" stroke-width="1.75" fill="none"/>
<text x="596.75" y="512.5" text-anchor="middle" class="ti" font-size="14.2">Temperature (°C)</text>
<text transform="translate(435.0,389.8) rotate(-90)" x="0" y="0" text-anchor="middle" class="ti" font-size="14.1">Phase angle (°)</text>
<text x="583" y="541.2" text-anchor="middle" class="cap"><tspan>(</tspan><tspan font-size="17.5" stroke="#000" stroke-width="0.45">d</tspan><tspan>)</tspan></text>
<polyline points="52.23,694.82 99.40,722.34 146.58,734.68 193.76,740.19 240.93,742.51 288.11,743.67" fill="none" stroke="#000000" stroke-width="0.8" stroke-opacity="0.6"/>
<polyline points="52.23,595.62 99.40,669.96 146.58,709.19 193.76,725.99 240.93,734.68 288.11,739.03" fill="none" stroke="#ff0000" stroke-width="0.8" stroke-opacity="0.6"/>
<polyline points="52.23,579.40 99.40,645.45 146.58,690.07 193.76,710.64 240.93,721.65 288.11,728.02" fill="none" stroke="#0000ff" stroke-width="0.8" stroke-opacity="0.6"/>
<polyline points="52.23,624.01 99.40,678.48 146.58,710.06 193.76,723.39 240.93,731.21 288.11,735.44" fill="none" stroke="#ff00ff" stroke-width="0.8" stroke-opacity="0.6"/>
<polyline points="52.23,585.19 99.40,668.05 146.58,708.03 193.76,726.28 240.93,734.97 288.11,739.03" fill="none" stroke="#008000" stroke-width="0.8" stroke-opacity="0.6"/>
<polyline points="52.23,717.13 99.40,731.03 146.58,737.87 193.76,741.29 240.93,742.91 288.11,743.84" fill="none" stroke="#000080" stroke-width="0.8" stroke-opacity="0.6"/>
<polyline points="52.23,704.09 99.40,726.57 146.58,735.61 193.76,740.07 240.93,742.22 288.11,743.43" fill="none" stroke="#8000ff" stroke-width="0.8" stroke-opacity="0.6"/>
<polyline points="52.23,708.03 99.40,729.64 146.58,738.45 193.76,741.75 240.93,743.38 288.11,744.07" fill="none" stroke="#98008a" stroke-width="0.8" stroke-opacity="0.6"/>
<polyline points="52.23,727.09 99.40,735.15 146.58,740.42 193.76,742.62 240.93,743.72 288.11,744.25" fill="none" stroke="#a8000c" stroke-width="0.8" stroke-opacity="0.6"/>
<polyline points="52.23,714.87 99.40,732.14 146.58,739.15 193.76,742.33 240.93,743.61 288.11,744.25" fill="none" stroke="#808000" stroke-width="0.8" stroke-opacity="0.6"/>
<rect x="49.93" y="692.52" width="4.60" height="4.60" fill="#000000"/>
<rect x="97.10" y="720.04" width="4.60" height="4.60" fill="#000000"/>
<rect x="144.28" y="732.38" width="4.60" height="4.60" fill="#000000"/>
<rect x="191.46" y="737.89" width="4.60" height="4.60" fill="#000000"/>
<rect x="238.63" y="740.21" width="4.60" height="4.60" fill="#000000"/>
<rect x="285.81" y="741.37" width="4.60" height="4.60" fill="#000000"/>
<circle cx="52.23" cy="595.62" r="2.75" fill="#ff0000"/>
<circle cx="99.40" cy="669.96" r="2.75" fill="#ff0000"/>
<circle cx="146.58" cy="709.19" r="2.75" fill="#ff0000"/>
<circle cx="193.76" cy="725.99" r="2.75" fill="#ff0000"/>
<circle cx="240.93" cy="734.68" r="2.75" fill="#ff0000"/>
<circle cx="288.11" cy="739.03" r="2.75" fill="#ff0000"/>
<polygon points="52.23,576.10 55.52,581.80 48.93,581.80" fill="#0000ff"/>
<polygon points="99.40,642.15 102.69,647.85 96.11,647.85" fill="#0000ff"/>
<polygon points="146.58,686.77 149.87,692.47 143.29,692.47" fill="#0000ff"/>
<polygon points="193.76,707.34 197.05,713.04 190.47,713.04" fill="#0000ff"/>
<polygon points="240.93,718.35 244.23,724.05 237.64,724.05" fill="#0000ff"/>
<polygon points="288.11,724.72 291.40,730.42 284.82,730.42" fill="#0000ff"/>
<polygon points="52.23,627.31 48.93,621.61 55.52,621.61" fill="#ff00ff"/>
<polygon points="99.40,681.78 96.11,676.08 102.69,676.08" fill="#ff00ff"/>
<polygon points="146.58,713.36 143.29,707.66 149.87,707.66" fill="#ff00ff"/>
<polygon points="193.76,726.69 190.47,720.99 197.05,720.99" fill="#ff00ff"/>
<polygon points="240.93,734.51 237.64,728.81 244.23,728.81" fill="#ff00ff"/>
<polygon points="288.11,738.74 284.82,733.04 291.40,733.04" fill="#ff00ff"/>
<polygon points="52.23,581.79 55.83,585.19 52.23,588.59 48.63,585.19" fill="#008000"/>
<polygon points="99.40,664.65 103.00,668.05 99.40,671.45 95.80,668.05" fill="#008000"/>
<polygon points="146.58,704.63 150.18,708.03 146.58,711.43 142.98,708.03" fill="#008000"/>
<polygon points="193.76,722.88 197.36,726.28 193.76,729.68 190.16,726.28" fill="#008000"/>
<polygon points="240.93,731.57 244.53,734.97 240.93,738.37 237.33,734.97" fill="#008000"/>
<polygon points="288.11,735.63 291.71,739.03 288.11,742.43 284.51,739.03" fill="#008000"/>
<polygon points="49.03,717.13 54.73,713.84 54.73,720.42" fill="#000080"/>
<polygon points="96.20,731.03 101.90,727.74 101.90,734.33" fill="#000080"/>
<polygon points="143.38,737.87 149.08,734.58 149.08,741.16" fill="#000080"/>
<polygon points="190.56,741.29 196.26,738.00 196.26,744.58" fill="#000080"/>
<polygon points="237.73,742.91 243.43,739.62 243.43,746.20" fill="#000080"/>
<polygon points="284.91,743.84 290.61,740.55 290.61,747.13" fill="#000080"/>
<polygon points="55.43,704.09 49.73,707.38 49.73,700.80" fill="#8000ff"/>
<polygon points="102.60,726.57 96.90,729.86 96.90,723.28" fill="#8000ff"/>
<polygon points="149.78,735.61 144.08,738.90 144.08,732.32" fill="#8000ff"/>
<polygon points="196.96,740.07 191.26,743.36 191.26,736.78" fill="#8000ff"/>
<polygon points="244.13,742.22 238.43,745.51 238.43,738.93" fill="#8000ff"/>
<polygon points="291.31,743.43 285.61,746.72 285.61,740.14" fill="#8000ff"/>
<polygon points="54.74,709.48 52.23,710.93 49.71,709.48 49.71,706.58 52.23,705.13 54.74,706.58" fill="#98008a"/>
<polygon points="101.91,731.09 99.40,732.54 96.89,731.09 96.89,728.19 99.40,726.74 101.91,728.19" fill="#98008a"/>
<polygon points="149.09,739.90 146.58,741.35 144.07,739.90 144.07,737.00 146.58,735.55 149.09,737.00" fill="#98008a"/>
<polygon points="196.27,743.20 193.76,744.65 191.25,743.20 191.25,740.30 193.76,738.85 196.27,740.30" fill="#98008a"/>
<polygon points="243.45,744.83 240.93,746.28 238.42,744.83 238.42,741.93 240.93,740.48 243.45,741.93" fill="#98008a"/>
<polygon points="290.62,745.52 288.11,746.97 285.60,745.52 285.60,742.62 288.11,741.17 290.62,742.62" fill="#98008a"/>
<polygon points="52.23,723.99 53.05,726.26 55.46,726.34 53.56,727.83 54.22,730.14 52.23,728.79 50.23,730.14 50.89,727.83 48.99,726.34 51.40,726.26" fill="#a8000c"/>
<polygon points="99.40,732.05 100.23,734.32 102.64,734.40 100.73,735.88 101.40,738.20 99.40,736.85 97.40,738.20 98.07,735.88 96.17,734.40 98.58,734.32" fill="#a8000c"/>
<polygon points="146.58,737.32 147.40,739.59 149.81,739.67 147.91,741.15 148.58,743.47 146.58,742.12 144.58,743.47 145.25,741.15 143.35,739.67 145.76,739.59" fill="#a8000c"/>
<polygon points="193.76,739.52 194.58,741.79 196.99,741.87 195.09,743.36 195.76,745.67 193.76,744.32 191.76,745.67 192.43,743.36 190.52,741.87 192.93,741.79" fill="#a8000c"/>
<polygon points="240.93,740.62 241.76,742.89 244.17,742.97 242.27,744.46 242.93,746.77 240.93,745.42 238.94,746.77 239.60,744.46 237.70,742.97 240.11,742.89" fill="#a8000c"/>
<polygon points="288.11,741.15 288.93,743.41 291.35,743.49 289.44,744.98 290.11,747.30 288.11,745.95 286.11,747.30 286.78,744.98 284.88,743.49 287.29,743.41" fill="#a8000c"/>
<polygon points="52.23,712.12 55.13,714.23 54.02,717.64 50.43,717.64 49.32,714.23" fill="#808000"/>
<polygon points="99.40,729.39 102.30,731.49 101.20,734.90 97.61,734.90 96.50,731.49" fill="#808000"/>
<polygon points="146.58,736.40 149.48,738.50 148.37,741.91 144.79,741.91 143.68,738.50" fill="#808000"/>
<polygon points="193.76,739.58 196.66,741.69 195.55,745.10 191.96,745.10 190.86,741.69" fill="#808000"/>
<polygon points="240.93,740.86 243.84,742.97 242.73,746.38 239.14,746.38 238.03,742.97" fill="#808000"/>
<polygon points="288.11,741.50 291.01,743.60 289.90,747.01 286.32,747.01 285.21,743.60" fill="#808000"/>
<line x1="240.0" y1="573.40" x2="263.8" y2="573.40" stroke="#000000" stroke-width="0.8" stroke-opacity="0.6"/>
<rect x="249.60" y="571.10" width="4.60" height="4.60" fill="#000000"/>
<text transform="translate(274.5,577.10) scale(0.95,1)" text-anchor="middle" class="lg">MA</text>
<line x1="240.0" y1="586.87" x2="263.8" y2="586.87" stroke="#ff0000" stroke-width="0.8" stroke-opacity="0.6"/>
<circle cx="251.90" cy="586.87" r="2.75" fill="#ff0000"/>
<text transform="translate(274.5,590.66) scale(0.95,1)" text-anchor="middle" class="lg">A</text>
<line x1="240.0" y1="600.34" x2="263.8" y2="600.34" stroke="#0000ff" stroke-width="0.8" stroke-opacity="0.6"/>
<polygon points="251.90,597.04 255.19,602.74 248.61,602.74" fill="#0000ff"/>
<text transform="translate(274.5,604.22) scale(0.95,1)" text-anchor="middle" class="lg">B</text>
<line x1="240.0" y1="613.81" x2="263.8" y2="613.81" stroke="#ff00ff" stroke-width="0.8" stroke-opacity="0.6"/>
<polygon points="251.90,617.11 248.61,611.41 255.19,611.41" fill="#ff00ff"/>
<text transform="translate(274.5,617.78) scale(0.95,1)" text-anchor="middle" class="lg">C</text>
<line x1="240.0" y1="627.28" x2="263.8" y2="627.28" stroke="#008000" stroke-width="0.8" stroke-opacity="0.6"/>
<polygon points="251.90,623.88 255.50,627.28 251.90,630.68 248.30,627.28" fill="#008000"/>
<text transform="translate(274.5,631.34) scale(0.95,1)" text-anchor="middle" class="lg">D</text>
<line x1="240.0" y1="640.75" x2="263.8" y2="640.75" stroke="#000080" stroke-width="0.8" stroke-opacity="0.6"/>
<polygon points="248.70,640.75 254.40,637.46 254.40,644.04" fill="#000080"/>
<text transform="translate(274.5,644.90) scale(0.95,1)" text-anchor="middle" class="lg">E</text>
<line x1="240.0" y1="654.22" x2="263.8" y2="654.22" stroke="#8000ff" stroke-width="0.8" stroke-opacity="0.6"/>
<polygon points="255.10,654.22 249.40,657.51 249.40,650.93" fill="#8000ff"/>
<text transform="translate(274.5,658.46) scale(0.95,1)" text-anchor="middle" class="lg">F</text>
<line x1="240.0" y1="667.69" x2="263.8" y2="667.69" stroke="#98008a" stroke-width="0.8" stroke-opacity="0.6"/>
<polygon points="254.41,669.14 251.90,670.59 249.39,669.14 249.39,666.24 251.90,664.79 254.41,666.24" fill="#98008a"/>
<text transform="translate(274.5,672.02) scale(0.95,1)" text-anchor="middle" class="lg">G</text>
<line x1="240.0" y1="681.16" x2="263.8" y2="681.16" stroke="#a8000c" stroke-width="0.8" stroke-opacity="0.6"/>
<polygon points="251.90,678.06 252.72,680.33 255.13,680.41 253.23,681.89 253.90,684.21 251.90,682.86 249.90,684.21 250.57,681.89 248.67,680.41 251.08,680.33" fill="#a8000c"/>
<text transform="translate(274.5,685.58) scale(0.95,1)" text-anchor="middle" class="lg">H</text>
<line x1="240.0" y1="694.63" x2="263.8" y2="694.63" stroke="#808000" stroke-width="0.8" stroke-opacity="0.6"/>
<polygon points="251.90,691.88 254.80,693.99 253.69,697.40 250.11,697.40 249.00,693.99" fill="#808000"/>
<text transform="translate(274.5,699.14) scale(0.95,1)" text-anchor="middle" class="lg">I</text>
<rect x="36.5" y="556.8" width="275.20" height="202.80" fill="none" stroke="#000" stroke-width="1.8"/>
<text transform="translate(36.50,774.60) scale(0.95,1)" text-anchor="middle" class="tl" font-size="11">50</text>
<text transform="translate(75.81,774.60) scale(0.95,1)" text-anchor="middle" class="tl" font-size="11">55</text>
<text transform="translate(115.13,774.60) scale(0.95,1)" text-anchor="middle" class="tl" font-size="11">60</text>
<text transform="translate(154.44,774.60) scale(0.95,1)" text-anchor="middle" class="tl" font-size="11">65</text>
<text transform="translate(193.76,774.60) scale(0.95,1)" text-anchor="middle" class="tl" font-size="11">70</text>
<text transform="translate(233.07,774.60) scale(0.95,1)" text-anchor="middle" class="tl" font-size="11">75</text>
<text transform="translate(272.39,774.60) scale(0.95,1)" text-anchor="middle" class="tl" font-size="11">80</text>
<text transform="translate(311.70,774.60) scale(0.95,1)" text-anchor="middle" class="tl" font-size="11">85</text>
<text transform="translate(29.00,748.31) scale(0.95,1)" text-anchor="end" class="tl" font-size="11">0</text>
<text transform="translate(29.00,719.34) scale(0.95,1)" text-anchor="end" class="tl" font-size="11">5</text>
<text transform="translate(29.00,690.37) scale(0.95,1)" text-anchor="end" class="tl" font-size="11">10</text>
<text transform="translate(29.00,661.40) scale(0.95,1)" text-anchor="end" class="tl" font-size="11">15</text>
<text transform="translate(29.00,632.43) scale(0.95,1)" text-anchor="end" class="tl" font-size="11">20</text>
<text transform="translate(29.00,603.46) scale(0.95,1)" text-anchor="end" class="tl" font-size="11">25</text>
<text transform="translate(29.00,574.49) scale(0.95,1)" text-anchor="end" class="tl" font-size="11">30</text>
<path d="M36.50,759.6v5.0 M75.81,759.6v5.0 M115.13,759.6v5.0 M154.44,759.6v5.0 M193.76,759.6v5.0 M233.07,759.6v5.0 M272.39,759.6v5.0 M311.70,759.6v5.0 M56.16,759.6v3.0 M95.47,759.6v3.0 M134.79,759.6v3.0 M174.10,759.6v3.0 M213.41,759.6v3.0 M252.73,759.6v3.0 M292.04,759.6v3.0 M36.5,745.11h-5.2 M36.5,716.14h-5.2 M36.5,687.17h-5.2 M36.5,658.20h-5.2 M36.5,629.23h-5.2 M36.5,600.26h-5.2 M36.5,571.29h-5.2 M36.5,759.60h-3.0 M36.5,730.63h-3.0 M36.5,701.66h-3.0 M36.5,672.69h-3.0 M36.5,643.71h-3.0 M36.5,614.74h-3.0 M36.5,585.77h-3.0 M36.5,556.80h-3.0" stroke="#000" stroke-width="1.75" fill="none"/>
<text x="174.10" y="785.0" text-anchor="middle" class="ti" font-size="14.1">Temperature (°C)</text>
<text transform="translate(13.8,657.6) rotate(-90)" x="0" y="0" text-anchor="middle" class="ti" font-size="14.2">Rutting factor (kPa)</text>
<text x="160" y="814" text-anchor="middle" class="cap"><tspan>(</tspan><tspan font-size="17.5" stroke="#000" stroke-width="0.45">e</tspan><tspan>)</tspan></text>
<polyline points="473.83,581.01 521.03,668.50 568.22,707.73 615.41,725.23 662.61,732.59 709.80,736.28" fill="none" stroke="#000000" stroke-width="0.8" stroke-opacity="0.6"/>
<polyline points="473.83,651.92 521.03,696.13 568.22,717.86 615.41,728.73 662.61,733.88 709.80,736.83" fill="none" stroke="#000080" stroke-width="0.8" stroke-opacity="0.6"/>
<polyline points="473.83,610.48 521.03,681.94 568.22,710.68 615.41,724.86 662.61,731.67 709.80,735.54" fill="none" stroke="#8000ff" stroke-width="0.8" stroke-opacity="0.6"/>
<polyline points="473.83,623.01 521.03,691.71 568.22,719.70 615.41,730.20 662.61,735.36 709.80,737.57" fill="none" stroke="#98008a" stroke-width="0.8" stroke-opacity="0.6"/>
<polyline points="473.83,683.60 521.03,709.20 568.22,725.96 615.41,732.96 662.61,736.46 709.80,738.12" fill="none" stroke="#a8000c" stroke-width="0.8" stroke-opacity="0.6"/>
<polyline points="473.83,644.74 521.03,699.63 568.22,721.91 615.41,732.04 662.61,736.09 709.80,738.12" fill="none" stroke="#808000" stroke-width="0.8" stroke-opacity="0.6"/>
<rect x="471.65" y="578.83" width="4.37" height="4.37" fill="#000000"/>
<rect x="518.84" y="666.31" width="4.37" height="4.37" fill="#000000"/>
<rect x="566.04" y="705.54" width="4.37" height="4.37" fill="#000000"/>
<rect x="613.23" y="723.04" width="4.37" height="4.37" fill="#000000"/>
<rect x="660.42" y="730.41" width="4.37" height="4.37" fill="#000000"/>
<rect x="707.62" y="734.09" width="4.37" height="4.37" fill="#000000"/>
<polygon points="470.79,651.92 476.21,648.80 476.21,655.05" fill="#000080"/>
<polygon points="517.99,696.13 523.40,693.00 523.40,699.25" fill="#000080"/>
<polygon points="565.18,717.86 570.60,714.73 570.60,720.99" fill="#000080"/>
<polygon points="612.37,728.73 617.79,725.60 617.79,731.85" fill="#000080"/>
<polygon points="659.57,733.88 664.98,730.76 664.98,737.01" fill="#000080"/>
<polygon points="706.76,736.83 712.18,733.70 712.18,739.96" fill="#000080"/>
<polygon points="476.87,610.48 471.46,613.61 471.46,607.35" fill="#8000ff"/>
<polygon points="524.07,681.94 518.65,685.07 518.65,678.82" fill="#8000ff"/>
<polygon points="571.26,710.68 565.85,713.80 565.85,707.55" fill="#8000ff"/>
<polygon points="618.45,724.86 613.04,727.98 613.04,721.73" fill="#8000ff"/>
<polygon points="665.65,731.67 660.23,734.80 660.23,728.55" fill="#8000ff"/>
<polygon points="712.84,735.54 707.43,738.67 707.43,732.41" fill="#8000ff"/>
<polygon points="476.22,624.38 473.83,625.76 471.45,624.38 471.45,621.63 473.83,620.25 476.22,621.63" fill="#98008a"/>
<polygon points="523.41,693.08 521.03,694.46 518.64,693.08 518.64,690.33 521.03,688.95 523.41,690.33" fill="#98008a"/>
<polygon points="570.61,721.08 568.22,722.46 565.83,721.08 565.83,718.32 568.22,716.95 570.61,718.32" fill="#98008a"/>
<polygon points="617.80,731.58 615.41,732.95 613.03,731.58 613.03,728.82 615.41,727.44 617.80,728.82" fill="#98008a"/>
<polygon points="664.99,736.73 662.61,738.11 660.22,736.73 660.22,733.98 662.61,732.60 664.99,733.98" fill="#98008a"/>
<polygon points="712.19,738.94 709.80,740.32 707.42,738.94 707.42,736.19 709.80,734.81 712.19,736.19" fill="#98008a"/>
<polygon points="473.83,680.66 474.61,682.81 476.90,682.89 475.10,684.30 475.73,686.50 473.83,685.22 471.93,686.50 472.57,684.30 470.76,682.89 473.05,682.81" fill="#a8000c"/>
<polygon points="521.03,706.26 521.81,708.41 524.10,708.49 522.29,709.90 522.92,712.10 521.03,710.82 519.13,712.10 519.76,709.90 517.95,708.49 520.24,708.41" fill="#a8000c"/>
<polygon points="568.22,723.02 569.00,725.17 571.29,725.25 569.48,726.66 570.12,728.86 568.22,727.58 566.32,728.86 566.96,726.66 565.15,725.25 567.44,725.17" fill="#a8000c"/>
<polygon points="615.41,730.02 616.20,732.17 618.49,732.25 616.68,733.66 617.31,735.86 615.41,734.58 613.52,735.86 614.15,733.66 612.34,732.25 614.63,732.17" fill="#a8000c"/>
<polygon points="662.61,733.52 663.39,735.67 665.68,735.75 663.87,737.16 664.51,739.36 662.61,738.08 660.71,739.36 661.34,737.16 659.54,735.75 661.83,735.67" fill="#a8000c"/>
<polygon points="709.80,735.17 710.58,737.33 712.87,737.41 711.07,738.82 711.70,741.02 709.80,739.73 707.90,741.02 708.54,738.82 706.73,737.41 709.02,737.33" fill="#a8000c"/>
<polygon points="473.83,642.13 476.59,644.13 475.53,647.37 472.13,647.37 471.08,644.13" fill="#808000"/>
<polygon points="521.03,697.01 523.78,699.01 522.73,702.25 519.32,702.25 518.27,699.01" fill="#808000"/>
<polygon points="568.22,719.30 570.98,721.30 569.92,724.54 566.52,724.54 565.46,721.30" fill="#808000"/>
<polygon points="615.41,729.43 618.17,731.43 617.12,734.67 613.71,734.67 612.66,731.43" fill="#808000"/>
<polygon points="662.61,733.48 665.36,735.48 664.31,738.72 660.91,738.72 659.85,735.48" fill="#808000"/>
<polygon points="709.80,735.51 712.56,737.51 711.51,740.75 708.10,740.75 707.05,737.51" fill="#808000"/>
<line x1="658.9" y1="588.90" x2="682.7" y2="588.90" stroke="#000000" stroke-width="0.8" stroke-opacity="0.6"/>
<rect x="668.62" y="586.72" width="4.37" height="4.37" fill="#000000"/>
<text transform="translate(693.1,593.20) scale(0.95,1)" text-anchor="middle" class="lg">MA</text>
<line x1="658.9" y1="602.34" x2="682.7" y2="602.34" stroke="#000080" stroke-width="0.8" stroke-opacity="0.6"/>
<polygon points="667.76,602.34 673.17,599.21 673.17,605.47" fill="#000080"/>
<text transform="translate(693.1,606.88) scale(0.95,1)" text-anchor="middle" class="lg">E</text>
<line x1="658.9" y1="615.78" x2="682.7" y2="615.78" stroke="#8000ff" stroke-width="0.8" stroke-opacity="0.6"/>
<polygon points="673.84,615.78 668.42,618.91 668.42,612.65" fill="#8000ff"/>
<text transform="translate(693.1,620.56) scale(0.95,1)" text-anchor="middle" class="lg">F</text>
<line x1="658.9" y1="629.22" x2="682.7" y2="629.22" stroke="#98008a" stroke-width="0.8" stroke-opacity="0.6"/>
<polygon points="673.19,630.60 670.80,631.98 668.41,630.60 668.41,627.84 670.80,626.47 673.19,627.84" fill="#98008a"/>
<text transform="translate(693.1,634.24) scale(0.95,1)" text-anchor="middle" class="lg">G</text>
<line x1="658.9" y1="642.66" x2="682.7" y2="642.66" stroke="#a8000c" stroke-width="0.8" stroke-opacity="0.6"/>
<polygon points="670.80,639.71 671.58,641.87 673.87,641.95 672.06,643.36 672.70,645.56 670.80,644.27 668.90,645.56 669.54,643.36 667.73,641.95 670.02,641.87" fill="#a8000c"/>
<text transform="translate(693.1,647.92) scale(0.95,1)" text-anchor="middle" class="lg">H</text>
<line x1="658.9" y1="656.10" x2="682.7" y2="656.10" stroke="#808000" stroke-width="0.8" stroke-opacity="0.6"/>
<polygon points="670.80,653.49 673.56,655.49 672.50,658.73 669.10,658.73 668.04,655.49" fill="#808000"/>
<text transform="translate(693.1,661.60) scale(0.95,1)" text-anchor="middle" class="lg">I</text>
<rect x="458.1" y="556.7" width="275.30" height="202.60" fill="none" stroke="#000" stroke-width="1.8"/>
<text transform="translate(458.10,775.10) scale(0.95,1)" text-anchor="middle" class="tl" font-size="11">50</text>
<text transform="translate(497.43,775.10) scale(0.95,1)" text-anchor="middle" class="tl" font-size="11">55</text>
<text transform="translate(536.76,775.10) scale(0.95,1)" text-anchor="middle" class="tl" font-size="11">60</text>
<text transform="translate(576.09,775.10) scale(0.95,1)" text-anchor="middle" class="tl" font-size="11">65</text>
<text transform="translate(615.41,775.10) scale(0.95,1)" text-anchor="middle" class="tl" font-size="11">70</text>
<text transform="translate(654.74,775.10) scale(0.95,1)" text-anchor="middle" class="tl" font-size="11">75</text>
<text transform="translate(694.07,775.10) scale(0.95,1)" text-anchor="middle" class="tl" font-size="11">80</text>
<text transform="translate(733.40,775.10) scale(0.95,1)" text-anchor="middle" class="tl" font-size="11">85</text>
<text transform="translate(450.60,744.08) scale(0.95,1)" text-anchor="end" class="tl" font-size="11">0</text>
<text transform="translate(450.60,707.25) scale(0.95,1)" text-anchor="end" class="tl" font-size="11">2</text>
<text transform="translate(450.60,670.41) scale(0.95,1)" text-anchor="end" class="tl" font-size="11">4</text>
<text transform="translate(450.60,633.57) scale(0.95,1)" text-anchor="end" class="tl" font-size="11">6</text>
<text transform="translate(450.60,596.74) scale(0.95,1)" text-anchor="end" class="tl" font-size="11">8</text>
<text transform="translate(450.60,559.90) scale(0.95,1)" text-anchor="end" class="tl" font-size="11">10</text>
<path d="M458.10,759.3v5.0 M497.43,759.3v5.0 M536.76,759.3v5.0 M576.09,759.3v5.0 M615.41,759.3v5.0 M654.74,759.3v5.0 M694.07,759.3v5.0 M733.40,759.3v5.0 M477.76,759.3v3.0 M517.09,759.3v3.0 M556.42,759.3v3.0 M595.75,759.3v3.0 M635.08,759.3v3.0 M674.41,759.3v3.0 M713.74,759.3v3.0 M458.1,740.88h-5.2 M458.1,704.05h-5.2 M458.1,667.21h-5.2 M458.1,630.37h-5.2 M458.1,593.54h-5.2 M458.1,556.70h-5.2 M458.1,759.30h-3.0 M458.1,722.46h-3.0 M458.1,685.63h-3.0 M458.1,648.79h-3.0 M458.1,611.95h-3.0 M458.1,575.12h-3.0" stroke="#000" stroke-width="1.75" fill="none"/>
<text x="594.75" y="786.2" text-anchor="middle" class="ti" font-size="14.1">Temperature (°C)</text>
<text transform="translate(438.2,658.5) rotate(-90)" x="0" y="0" text-anchor="middle" class="ti" font-size="14.2">Rutting factor (kPa)</text>
<text x="583" y="814" text-anchor="middle" class="cap"><tspan>(</tspan><tspan font-size="17.5" stroke="#000" stroke-width="0.45">f</tspan><tspan>)</tspan></text>
</svg>
</body></html>
